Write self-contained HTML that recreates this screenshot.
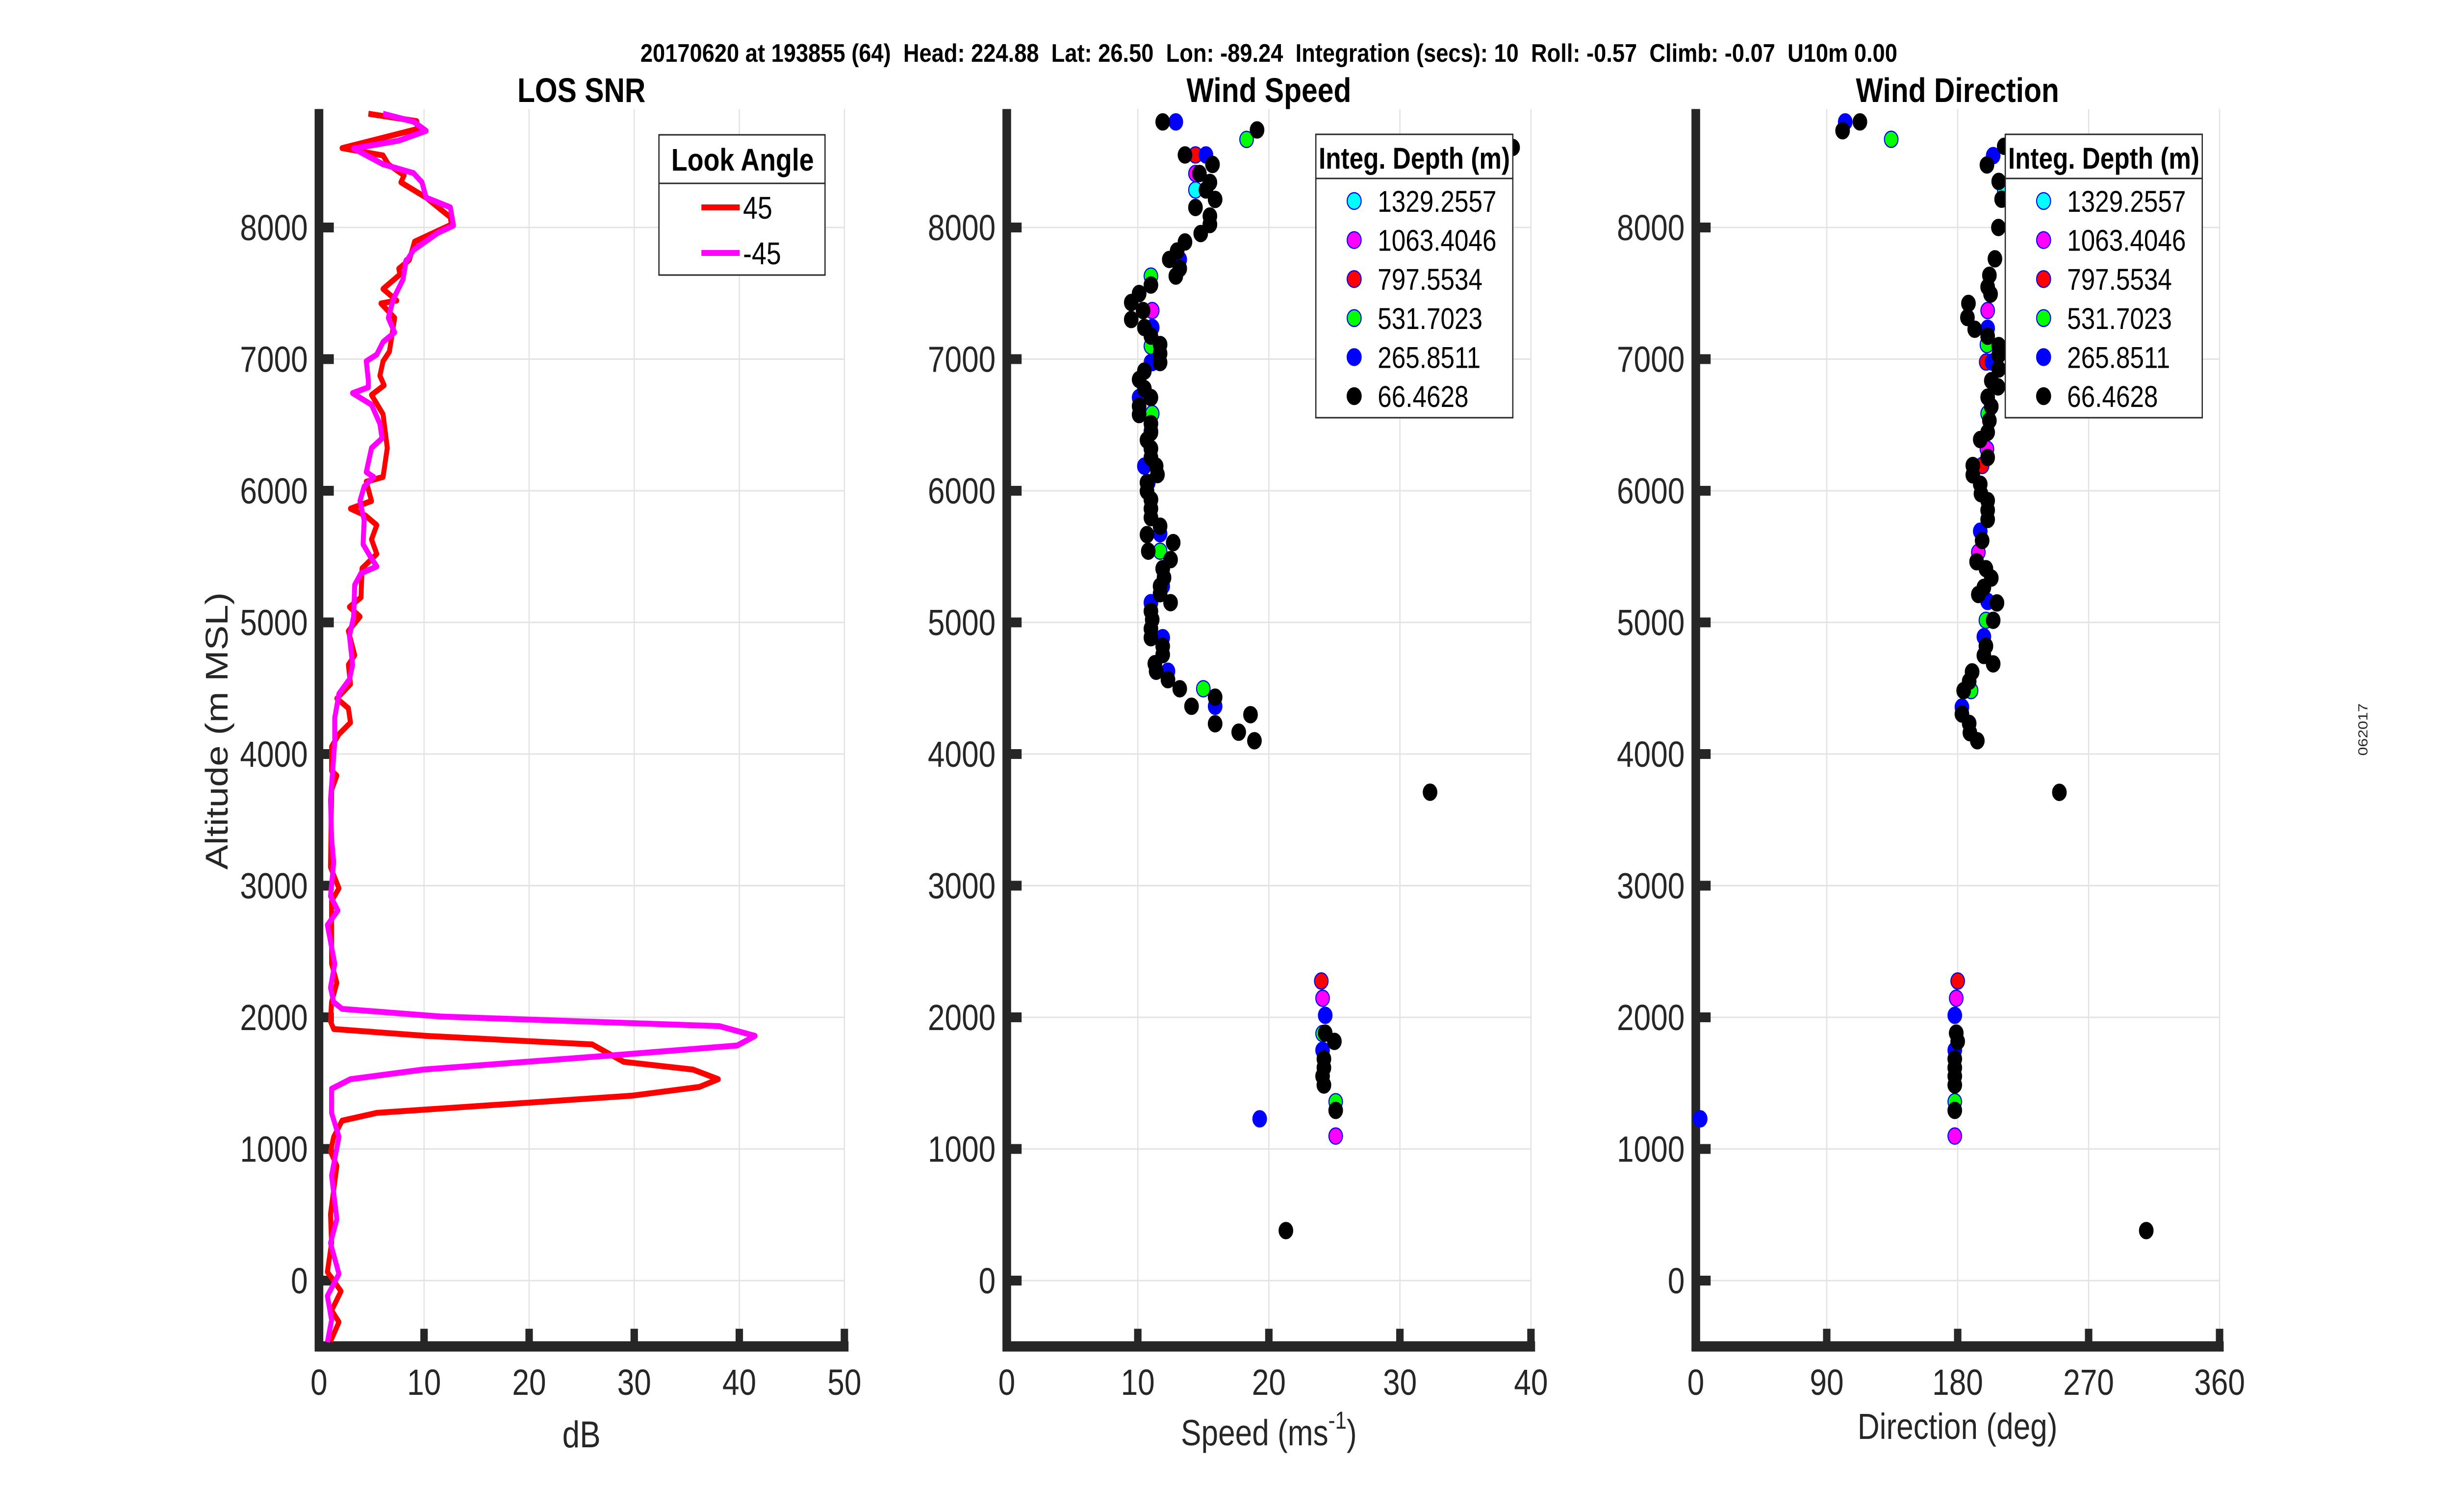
<!DOCTYPE html>
<html><head><meta charset="utf-8"><title>Lidar wind profile</title>
<style>
html,body{margin:0;padding:0;background:#fff;width:100%;height:100%;overflow:hidden;}
svg{display:block;width:100vw;height:100vh;font-family:"Liberation Sans",Arial,sans-serif;}
</style></head>
<body>
<svg id="fig" xmlns="http://www.w3.org/2000/svg" viewBox="0 0 5950 3084" preserveAspectRatio="none">
<rect width="5950" height="3084" fill="#fff"/>
<text x="3079" y="126" text-anchor="middle" font-size="52" font-weight="bold" fill="#000" style="white-space:pre" xml:space="preserve" textLength="3050" lengthAdjust="spacingAndGlyphs">20170620 at 193855 (64)  Head: 224.88  Lat: 26.50  Lon: -89.24  Integration (secs): 10  Roll: -0.57  Climb: -0.07  U10m 0.00</text>
<text transform="translate(5745,1488) rotate(-90)" text-anchor="middle" font-size="32" fill="#262626">062017</text>
<g id="p1"></g>
<g id="p2"></g>
<g id="p3"></g>
</svg>
<script>
// ---------- data ----------
const snrAlt45 = [8864,8808,8749,8603,8547,8480,8395,8343,8227,8078,8022,7892,7754,7687,7643,7533,7445,7423,7313,7057,6984,6874,6801,6728,6581,6325,6105,6069,5922,5864,5813,5739,5630,5520,5410,5190,5117,5044,4934,4751,4678,4531,4422,4348,4239,4151,4056,3873,3836,3726,3140,2980,2884,2408,2262,2116,1969,1911,1859,1794,1662,1603,1530,1471,1405,1274,1215,1091,981,871,505,285,66,-81,-227,-315,-461];
const snrVal45 = [4.7,9.3,9.4,2.2,6.1,6.6,8.1,7.8,10.2,12.5,12.6,9.1,8.6,7.6,7.7,6.1,7.4,5.9,7.2,6.7,6.1,5.8,6.2,5.0,6.1,6.5,6.1,4.5,5.0,3.0,4.4,5.5,5.0,5.5,4.1,4.0,2.9,3.9,2.8,3.4,2.8,3.0,1.7,2.8,3.0,1.9,1.2,1.2,1.7,1.2,1.1,1.9,1.2,1.2,1.7,1.2,1.1,1.4,10.2,26.0,29.0,35.6,38.0,36.2,29.8,5.5,2.2,1.4,1.1,1.7,1.1,1.2,0.8,2.1,1.2,1.9,1.1];
const snrAltM45 = [8864,8804,8734,8660,8600,8480,8413,8343,8227,8153,8015,7959,7829,7728,7752,7606,7460,7313,7203,7130,7035,6984,6837,6786,6742,6654,6508,6398,6325,6142,6105,6032,5922,5776,5593,5498,5425,5373,5285,5044,4897,4678,4568,4458,4275,4092,3763,3653,3360,3177,2921,2811,2701,2408,2225,2116,2064,2006,1933,1859,1786,1713,1603,1530,1457,1274,1091,798,468,285,51,-117,-300,-468];
const snrValM45 = [6.1,9.0,10.2,7.6,3.3,6.1,9.0,9.8,10.2,12.5,12.8,11.3,9.0,8.2,8.3,8.0,7.1,6.6,7.2,6.1,5.5,4.5,4.7,4.7,3.2,5.0,5.8,6.0,5.0,4.5,5.2,4.3,3.9,4.3,4.2,4.9,5.5,4.0,3.4,3.3,2.9,3.2,2.9,1.9,1.5,1.5,1.2,1.1,1.2,1.4,1.1,1.8,0.8,1.5,1.1,1.4,2.2,11.6,38.1,41.5,39.8,28.2,9.9,3.0,1.2,1.2,1.9,1.2,1.7,1.1,1.9,0.8,1.2,0.8];

const depthLabels = ["1329.2557","1063.4046","797.5534","531.7023","265.8511","66.4628"];
const depthColors = ["#00ffff","#ff00ff","#ff0000","#00ff00","#0000ff","#000000"];

// wind speed (m/s) per integration depth
const spdCyanAlt = [8285];
const spdCyanVal = [14.4];
const spdMagAlt = [8410,7369,2145,1098];
const spdMagVal = [14.4,11.1,24.1,25.1];
const spdRedAlt = [8551,6974,4629,2276];
const spdRedVal = [14.4,11.0,11.4,24.0];
const spdGreenAlt = [8669,7631,7099,6586,5541,4496,1877,1359];
const spdGreenVal = [18.3,11.0,11.0,11.1,11.7,15.0,24.1,25.1];
const spdBlueAlt = [8802,8551,8023,7757,7498,7240,6974,6708,6453,6320,6187,6062,5933,5674,5408,5275,5150,4884,4629,4363,2015,1750,1486,1229];
const spdBlueVal = [12.9,15.2,15.5,13.2,10.1,11.1,11.1,10.1,11.0,11.0,10.5,10.8,11.0,11.7,11.9,11.9,11.0,11.9,12.3,15.9,24.3,24.1,24.2,19.3];
const spdBlackAlt = [8802,8741,8608,8551,8479,8410,8342,8285,8213,8152,8087,8023,7954,7890,7821,7757,7688,7631,7563,7498,7430,7369,7301,7240,7175,7111,7042,6974,6909,6845,6776,6708,6643,6579,6510,6442,6385,6320,6252,6187,6123,6062,5997,5933,5864,5796,5731,5667,5606,5541,5477,5408,5340,5275,5218,5150,5085,5021,4952,4884,4819,4755,4686,4629,4565,4496,4432,4363,4299,4230,4166,4101,3710,1880,1817,1684,1617,1553,1486,1293,380];
const spdBlackVal = [11.9,19.1,38.6,13.6,15.7,14.7,15.5,15.2,15.9,14.4,15.5,15.5,14.8,13.6,13.0,12.4,13.2,12.9,11.0,10.1,9.5,10.4,9.5,10.5,11.0,11.7,11.7,11.7,10.5,10.1,10.5,11.0,10.1,10.1,11.0,11.0,10.7,11.0,11.0,11.4,11.5,10.7,10.7,11.0,11.0,11.0,11.7,10.7,12.7,10.8,12.5,11.9,12.0,11.7,11.7,12.5,11.0,11.1,11.0,11.0,11.9,11.9,11.3,11.4,12.3,13.2,15.9,14.1,18.6,15.9,17.7,18.9,32.3,24.3,25.0,24.2,24.2,24.1,24.2,25.1,21.3];

// wind direction (deg) per integration depth
const dirCyanAlt = [8285];
const dirCyanVal = [212];
const dirMagAlt = [7369,6317,5533,2145,1098];
const dirMagVal = [200.6,200.1,194.2,179,178];
const dirRedAlt = [6978,6192,2276];
const dirRedVal = [199.6,196.8,180];
const dirGreenAlt = [8670,7110,6586,5016,4624,4482,1880,1359];
const dirGreenVal = [134.3,200.1,200.6,199.4,189.9,189.2,179,178];
const dirBlueAlt = [8802,8546,7234,6978,5693,5159,4891,4357,2015,1750,1229];
const dirBlueVal = [102.7,204.4,200.6,203.6,195.5,200.6,198,182.9,178,178,3];
const dirBlackAlt = [8735,8802,8617,8475,8350,8215,8000,7762,7637,7548,7494,7423,7316,7227,7174,7103,7032,6925,6836,6789,6711,6640,6533,6444,6389,6253,6192,6121,6050,5978,5925,5853,5782,5622,5461,5408,5337,5266,5212,5148,5016,4820,4749,4685,4624,4553,4482,4304,4233,4162,4101,3709,1880,1817,1684,1617,1553,1486,1293,380];
const dirBlackVal = [100.9,112.8,212,200.1,208.2,210.2,208,205.6,201.8,200.6,202.6,187.4,186.7,191.7,200.6,208.2,208.2,208.2,203.1,207.7,200.6,203.1,201.8,200.6,195.5,200.6,190.4,190.4,195.5,196.0,200.6,200.6,200.6,196.8,193.0,199.4,203.1,198.0,194.2,207.0,204.4,199.4,198.0,204.4,189.9,187.9,184.1,182.9,187.9,188.4,193.5,249.9,179,180,178,178,178,178,178,309.6];

const altTicks = [0,1000,2000,3000,4000,5000,6000,7000,8000];
const snrTicks = [0,10,20,30,40,50];
const spdTicks = [0,10,20,30,40];
const dirTicks = [0,90,180,270,360];

// ---------- layout ----------
const NS = "http://www.w3.org/2000/svg";
const Y0PX = 2612, PX_PER_M = 0.2685, YMIN = -500, YMAX = 8900;
function yScale(a){ return Y0PX - a*PX_PER_M; }
function mk(parent, tag, attrs){
  const e = document.createElementNS(NS, tag);
  for (const k in attrs) e.setAttribute(k, attrs[k]);
  parent.appendChild(e); return e;
}
function makeX(x0, w, vmin, vmax){ return v => x0 + (v-vmin)/(vmax-vmin)*w; }

function drawAxes(g, xs, xticks){
  const yTop = yScale(YMAX), yBot = yScale(YMIN);
  const xL = xs(xticks[0]), xR = xs(xticks[xticks.length-1]);
  xticks.forEach(t => {
    if (t === xticks[0]) return;
    const l = mk(g,'line',{x1:xs(t),x2:xs(t),y1:yTop,y2:yBot,stroke:'#e3e3e3','stroke-width':3});
    
    
  });
  altTicks.forEach(t => {
    const l = mk(g,'line',{x1:xL,x2:xR,y1:yScale(t),y2:yScale(t),stroke:'#e3e3e3','stroke-width':3});
    
    
  });
  const ya = mk(g,'line',{x1:xL,x2:xL,y1:yTop,y2:yBot+10,stroke:'#262626','stroke-width':21});
  
  
  const xa = mk(g,'line',{x1:xL-10,x2:xR+10,y1:yBot,y2:yBot,stroke:'#262626','stroke-width':21});
  
  
  altTicks.forEach(t => {
    const tk = mk(g,'rect',{x:xL,y:yScale(t)-10,width:36,height:20,fill:'#262626'});
    
    
    const lb = mk(g,'text',{x:xL-27,y:yScale(t)+26,'text-anchor':'end','font-size':74,fill:'#262626'});
    lb.textContent = String(t);
    
    
  });
  xticks.forEach(t => {
    const tk = mk(g,'rect',{x:xs(t)-9,y:yBot-36,width:18,height:36,fill:'#262626'});
    
    
    const lb = mk(g,'text',{x:xs(t),y:2845,'text-anchor':'middle','font-size':74,fill:'#262626'});
    lb.textContent = String(t);
    
    
  });
}
function title(g, x, txt){
  const t = mk(g,'text',{x:x,y:208,'text-anchor':'middle','font-size':70,'font-weight':'bold',fill:'#000'});
  t.textContent = txt;
  
  
}

// ---------- panel 1: LOS SNR ----------
const p1 = document.getElementById('p1');
const xs1 = makeX(774, 1275, 0, 50);
drawAxes(p1, xs1, snrTicks);
title(p1, 1411, 'LOS SNR');
function linePath(vals, alts, xs){
  return vals.map((v,i)=> (i?'L':'M') + xs(v).toFixed(1) + ' ' + yScale(alts[i]).toFixed(1)).join(' ');
}
const l45 = mk(p1,'path',{d:linePath(snrVal45, snrAlt45, xs1),fill:'none',stroke:'#ff0000','stroke-width':12,'stroke-linejoin':'round'});


const lm45 = mk(p1,'path',{d:linePath(snrValM45, snrAltM45, xs1),fill:'none',stroke:'#ff00ff','stroke-width':12,'stroke-linejoin':'round'});


const ylab = mk(p1,'text',{transform:'translate(552,1491) rotate(-90)','text-anchor':'middle','font-size':76,fill:'#262626'});
ylab.textContent = 'Altitude (m MSL)';


const xl1 = mk(p1,'text',{x:1411,y:2952,'text-anchor':'middle','font-size':76,fill:'#262626'});
xl1.textContent = 'dB';


const lg1 = mk(p1,'g',{});


const lb1 = mk(lg1,'rect',{x:1599,y:275,width:403,height:286,fill:'#fff',stroke:'#262626','stroke-width':3});


const ls1 = mk(lg1,'line',{x1:1599,x2:2002,y1:374,y2:374,stroke:'#262626','stroke-width':3});


const lt1 = mk(lg1,'text',{x:1802,y:348,'text-anchor':'middle','font-size':64,'font-weight':'bold',fill:'#000'});
lt1.textContent = 'Look Angle';


[['45','#ff0000',423],['-45','#ff00ff',516]].forEach(([txt,col,y])=>{
  const ln = mk(lg1,'line',{x1:1702,x2:1795,y1:y,y2:y,stroke:col,'stroke-width':12});
  
  
  const t = mk(lg1,'text',{x:1803,y:y+23,'font-size':64,fill:'#000'});
  t.textContent = txt;
  
  
});

// ---------- scatter panels ----------
function scatter(g, xs, vals, alts, color, name){
  vals.forEach((v,i)=>{
    const c = mk(g,'circle',{cx:xs(v),cy:yScale(alts[i]),r:16.5,fill:color,stroke:color==='#000000'?'#000':'#0000ff','stroke-width':2.5});
    
    
  });
}
function legend2(g, x, name){
  const lg = mk(g,'g',{});
  
  
  const b = mk(lg,'rect',{x:x,y:274,width:478,height:578,fill:'#fff',stroke:'#262626','stroke-width':3});
  
  
  const s = mk(lg,'line',{x1:x,x2:x+478,y1:364,y2:364,stroke:'#262626','stroke-width':3});
  
  
  const t = mk(lg,'text',{x:x+239,y:344,'text-anchor':'middle','font-size':61,'font-weight':'bold',fill:'#000'});
  t.textContent = 'Integ. Depth (m)';
  
  
  depthLabels.forEach((lbl,i)=>{
    const y = 410 + i*79.6;
    const m = mk(lg,'circle',{cx:x+93,cy:y,r:17,fill:depthColors[i],stroke:i===5?'#000':'#0000ff','stroke-width':2.5});
    
    
    const tx = mk(lg,'text',{x:x+150,y:y+22,'font-size':61,fill:'#000'});
    tx.textContent = lbl;
    
    
  });
}

const p2 = document.getElementById('p2');
const xs2 = makeX(2443, 1272, 0, 40);
drawAxes(p2, xs2, spdTicks);
title(p2, 3079, 'Wind Speed');
scatter(p2, xs2, spdCyanVal, spdCyanAlt, '#00ffff', 'speed-point-1329m');
scatter(p2, xs2, spdMagVal, spdMagAlt, '#ff00ff', 'speed-point-1063m');
scatter(p2, xs2, spdRedVal, spdRedAlt, '#ff0000', 'speed-point-798m');
scatter(p2, xs2, spdGreenVal, spdGreenAlt, '#00ff00', 'speed-point-532m');
scatter(p2, xs2, spdBlueVal, spdBlueAlt, '#0000ff', 'speed-point-266m');
scatter(p2, xs2, spdBlackVal, spdBlackAlt, '#000000', 'speed-point-66m');
legend2(p2, 3193, 'legend-speed-depth');
const xl2 = mk(p2,'text',{x:3079,y:2948,'text-anchor':'middle','font-size':74,fill:'#262626'});


xl2.innerHTML = 'Speed (ms<tspan font-size="50" dy="-34">-1</tspan><tspan dy="34">)</tspan>';

const p3 = document.getElementById('p3');
const xs3 = makeX(4115, 1271, 0, 360);
drawAxes(p3, xs3, dirTicks);
title(p3, 4750, 'Wind Direction');
scatter(p3, xs3, dirCyanVal, dirCyanAlt, '#00ffff', 'direction-point-1329m');
scatter(p3, xs3, dirMagVal, dirMagAlt, '#ff00ff', 'direction-point-1063m');
scatter(p3, xs3, dirRedVal, dirRedAlt, '#ff0000', 'direction-point-798m');
scatter(p3, xs3, dirGreenVal, dirGreenAlt, '#00ff00', 'direction-point-532m');
scatter(p3, xs3, dirBlueVal, dirBlueAlt, '#0000ff', 'direction-point-266m');
scatter(p3, xs3, dirBlackVal, dirBlackAlt, '#000000', 'direction-point-66m');
legend2(p3, 4866, 'legend-direction-depth');
const xl3 = mk(p3,'text',{x:4750,y:2935,'text-anchor':'middle','font-size':74,fill:'#262626'});
xl3.textContent = 'Direction (deg)';


</script>
</body></html>
